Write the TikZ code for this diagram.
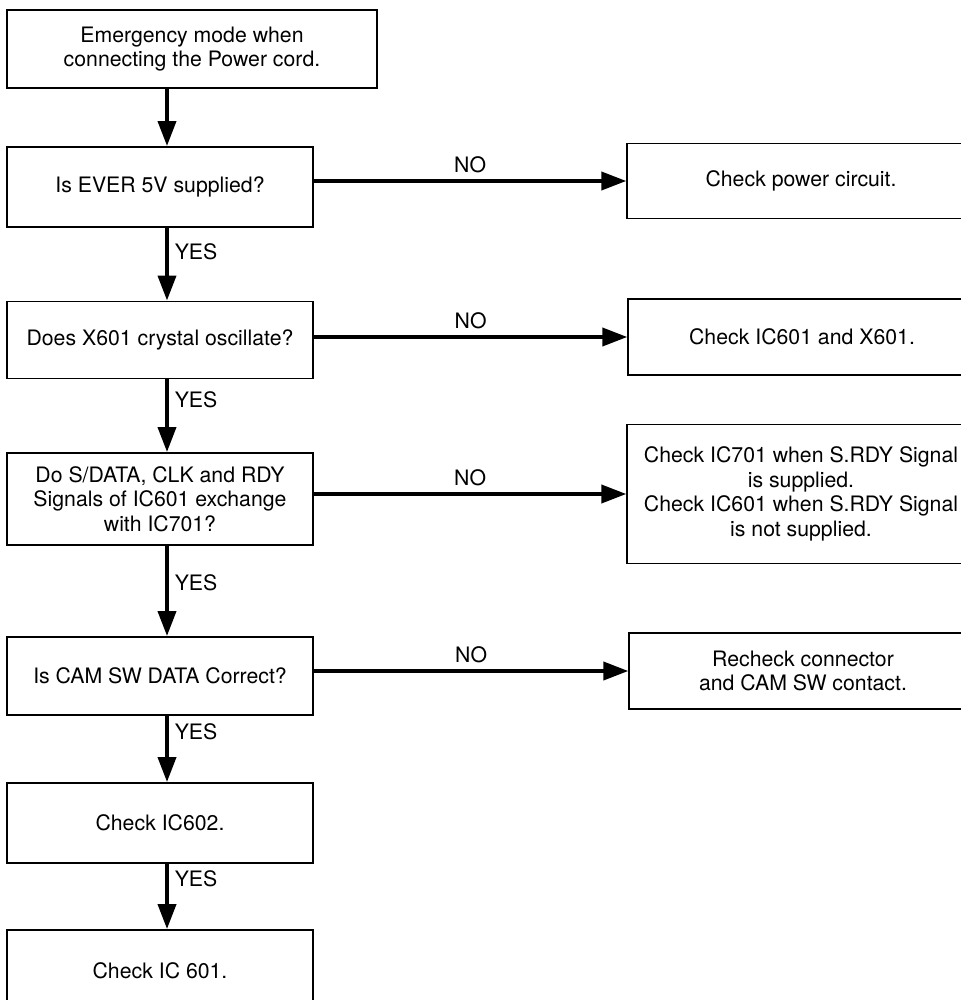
\documentclass[tikz,border=0pt]{standalone}
\usepackage{fontspec}
\setmainfont{TeX Gyre Heros}
\usetikzlibrary{arrows.meta}

\begin{document}
\begin{tikzpicture}[x=0.02cm,y=-0.02cm]

\tikzset{box/.style = {draw, line width=1.1pt, minimum width=6.12cm, align=center, font=\fontsize{12.1}{14}\selectfont}}
\tikzset{fix/.style = {box, minimum width=6.95cm}}
\tikzset{flow/.style = {-{Triangle[length=5mm,width=3.6mm]}, line width=2.2pt}}
\tikzset{ans/.style = {font=\fontsize{12.1}{14}\selectfont}}

\useasboundingbox (0,0) rectangle (960,1000);

% left column
\node[box, minimum width=7.4cm, minimum height=1.56cm] (start) at (192,49) {Emergency mode when\\connecting the Power cord.};
\node[box, minimum height=1.6cm] (q1) at (160,187) {Is EVER 5V supplied?};
\node[box, minimum height=1.54cm] (q2) at (160,340) {Does X601 crystal oscillate?};
\node[box, minimum height=1.84cm] (q3) at (160,499) {Do S/DATA, CLK and RDY\\Signals of IC601 exchange\\with IC701?};
\node[box, minimum height=1.56cm] (q4) at (160,676) {Is CAM SW DATA Correct?};
\node[box, minimum height=1.6cm] (c1) at (160,823) {Check IC602.};
\node[box, minimum height=1.64cm] (c2) at (160,971) {Check IC 601.};

% right column
\node[fix, minimum height=1.5cm] (r1) at (801,181) {Check power circuit.};
\node[fix, minimum height=1.52cm] (r2) at (802,337) {Check IC601 and X601.};
\node[fix, minimum height=2.78cm] (r3) at (801,494) {Check IC701 when S.RDY Signal\\is supplied.\\Check IC601 when S.RDY Signal\\is not supplied.};
\node[fix, minimum height=1.52cm] (r4) at (803,671) {Recheck connector\\and CAM SW contact.};

\coordinate (spine) at (167,0);

\draw[flow] (start.south -| spine) -- (q1.north -| spine);
\draw[flow] (q1.south -| spine) -- node[ans, right, pos=0.33] {YES} (q2.north -| spine);
\draw[flow] (q2.south -| spine) -- node[ans, right, pos=0.28] {YES} (q3.north -| spine);
\draw[flow] (q3.south -| spine) -- node[ans, right, pos=0.41] {YES} (q4.north -| spine);
\draw[flow] (q4.south -| spine) -- node[ans, right, pos=0.24] {YES} (c1.north -| spine);
\draw[flow] (c1.south -| spine) -- node[ans, right, pos=0.22] {YES} (c2.north -| spine);

\draw[flow] (q1.east |- r1.west) -- node[ans, above] {NO} (r1.west);
\draw[flow] (q2.east |- r2.west) -- node[ans, above] {NO} (r2.west);
\draw[flow] (q3.east |- r3.west) -- node[ans, above] {NO} (r3.west);
\draw[flow] (q4.east |- r4.west) -- node[ans, above] {NO} (r4.west);

\end{tikzpicture}
\end{document}
